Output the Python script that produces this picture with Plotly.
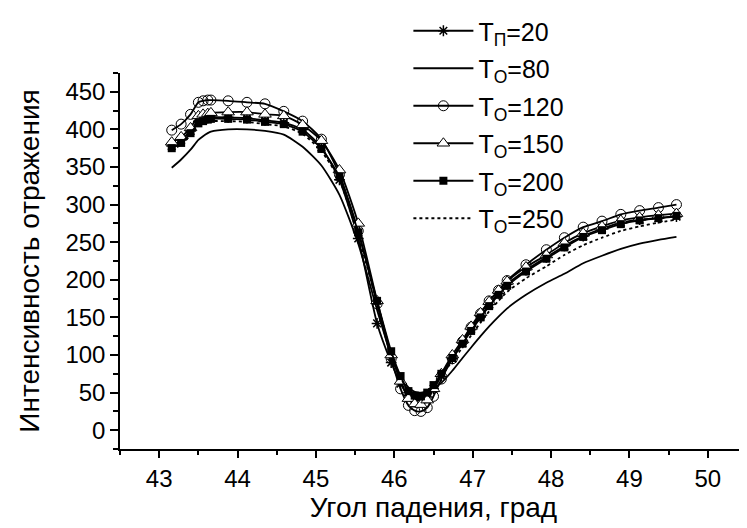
import plotly.graph_objects as go

# angle of incidence, deg (marker series share one grid)
angle = [43.16, 43.28, 43.40, 43.50, 43.56, 43.62, 43.66, 43.88, 44.12, 44.35,
         44.59, 44.83, 45.07, 45.30, 45.54, 45.78, 45.96, 46.08, 46.18, 46.26,
         46.34, 46.42, 46.50, 46.60, 46.74, 46.87, 46.98, 47.10, 47.21, 47.33,
         47.44, 47.68, 47.94, 48.17, 48.41, 48.65, 48.89, 49.13, 49.37, 49.60]

# reflection intensity for each annealing temperature
i_p20 = [378, 386, 398, 411, 414, 415, 416, 416, 415, 412,
         409, 400, 376, 333, 255, 142, 90, 62, 46, 41,
         40, 44, 55, 72, 95, 116, 134, 151, 167, 182,
         194, 213, 230, 245, 258, 268, 276, 280, 282, 284]
i_o80 = [349, 360, 373, 386, 391, 395, 397, 400, 400, 398,
         393, 377, 352, 313, 248, 160, 100, 72, 57, 51,
         50, 52, 56, 63, 79, 96, 110, 125, 138, 151,
         162, 180, 196, 208, 222, 232, 241, 248, 253, 257]
i_o120 = [399, 407, 420, 436, 438, 439, 439, 438, 436, 434,
          424, 411, 387, 340, 265, 168, 95, 55, 33, 26,
          25, 30, 45, 68, 95, 118, 137, 155, 172, 186,
          199, 220, 240, 256, 270, 278, 287, 292, 296, 300]
i_o150 = [383, 390, 402, 418, 420, 421, 422, 423, 423, 420,
          418, 406, 385, 346, 275, 172, 100, 65, 42, 35,
          34, 40, 55, 75, 100, 120, 138, 156, 171, 186,
          198, 217, 233, 249, 262, 271, 279, 283, 286, 288]
i_o200 = [375, 382, 395, 408, 411, 413, 414, 414, 413, 410,
          407, 397, 374, 337, 263, 172, 105, 72, 52, 46,
          45, 50, 60, 75, 96, 115, 132, 150, 165, 180,
          192, 211, 228, 243, 257, 266, 274, 279, 282, 285]
i_o250 = [372, 380, 392, 405, 408, 410, 411, 411, 410, 407,
          404, 394, 371, 333, 258, 170, 102, 70, 52, 46,
          46, 50, 58, 72, 92, 110, 126, 143, 158, 172,
          184, 202, 218, 233, 246, 256, 265, 271, 276, 280]

FONT = "Liberation Sans, Arial, sans-serif"

series = [
    ("T<sub>П</sub>=20", i_p20, dict(symbol="asterisk-open", size=9, color="black", line=dict(width=1.5, color="black")), "solid", "lines+markers"),
    ("T<sub>O</sub>=80", i_o80, None, "solid", "lines"),
    ("T<sub>O</sub>=120", i_o120, dict(symbol="circle-open", size=10, color="black", line=dict(width=1)), "solid", "lines+markers"),
    ("T<sub>O</sub>=150", i_o150, dict(symbol="triangle-up", size=11, color="white", line=dict(width=1, color="black")), "solid", "lines+markers"),
    ("T<sub>O</sub>=200", i_o200, dict(symbol="square", size=8, color="black"), "solid", "lines+markers"),
    ("T<sub>O</sub>=250", i_o250, None, "dot", "lines"),
]

fig = go.Figure()
for k, (name, vals, marker, dash, mode) in enumerate(series):
    tr = go.Scatter(x=angle, y=vals, name=name, mode=mode, legendgroup=str(k),
                    line=dict(color="black", width=1.8, dash=dash, shape="spline", smoothing=0.6))
    if marker:
        tr.marker = marker
    fig.add_trace(tr)

# the page body adds an 8px offset, margins compensate for it
fig.update_layout(
    width=747, height=528,
    margin=dict(l=112, r=8, t=65, b=87, autoexpand=False),
    paper_bgcolor="white", plot_bgcolor="white",
    font=dict(family=FONT, size=24, color="black"),
    legend=dict(x=0.536, y=1.04, xref="container", yref="container",
                xanchor="left", yanchor="top",
                bgcolor="rgba(0,0,0,0)", font=dict(size=25),
                tracegroupgap=2, itemwidth=60),
    xaxis=dict(range=[42.5, 50.5], dtick=1, tick0=43, showgrid=False, zeroline=False,
               automargin=False,
               showline=True, linecolor="black", linewidth=1.5,
               ticks="outside", ticklen=7, tickwidth=1.5, tickcolor="black",
               minor=dict(dtick=0.5, ticks="outside", ticklen=4, tickwidth=1.5, tickcolor="black"),
               title=dict(text="Угол падения, град", font=dict(size=28), standoff=4)),
    yaxis=dict(range=[-25, 475], dtick=50, tick0=0, showgrid=False, zeroline=False,
               automargin=False,
               showline=True, linecolor="black", linewidth=1.5,
               ticks="outside", ticklen=8, tickwidth=1.5, tickcolor="black",
               minor=dict(dtick=25, ticks="outside", ticklen=5, tickwidth=1.5, tickcolor="black"),
               title=dict(text="Интенсивность отражения", font=dict(size=28), standoff=18)),
)

fig.write_html("out.html")
